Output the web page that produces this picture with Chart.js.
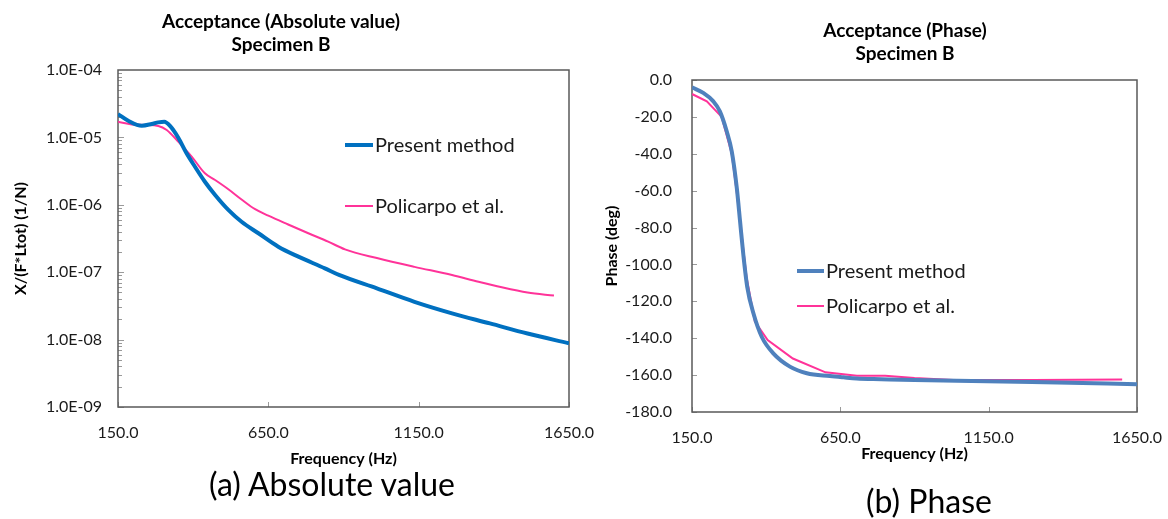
<!DOCTYPE html>
<html>
<head>
<meta charset="utf-8">
<script src="https://cdn.jsdelivr.net/npm/chart.js@4.4.1/dist/chart.umd.min.js"></script>
<style>
  html, body { margin:0; padding:0; background:#fff; }
  body { width:1168px; height:519px; position:relative; overflow:hidden; font-family:Lato, "Open Sans", sans-serif; }
  canvas { position:absolute; top:0; }
  .t { position:absolute; white-space:nowrap; transform:translateX(-50%); color:#000; }
  .title { font-weight:bold; font-size:19px; line-height:19px; }
  .cap { font-size:32px; line-height:32px; }
</style>
</head>
<body>
<canvas id="cA" width="620" height="519" style="left:0;width:620px;height:519px"></canvas>
<canvas id="cB" width="608" height="519" style="left:580px;width:608px;height:519px"></canvas>

<div class="t title" style="left:281px;top:11px">Acceptance (Absolute value)</div>
<div class="t title" style="left:281px;top:34px">Specimen B</div>
<div class="t title" style="left:905px;top:20px">Acceptance (Phase)</div>
<div class="t title" style="left:905px;top:43px">Specimen B</div>
<div class="t cap" style="left:332px;top:468px">(a) Absolute value</div>
<div class="t cap" style="left:929px;top:485px">(b) Phase</div>

<script>
// ---------- data ----------
const seriesNames = ['Present method', 'Policarpo et al.'];

const xTicks = [150, 650, 1150, 1650];
const absTicks = [1e-9, 1e-8, 1e-7, 1e-6, 1e-5, 1e-4];
const phaseTicks = [-180, -160, -140, -120, -100, -80, -60, -40, -20, 0];

// (a) Absolute value
const absFreqPresent = [150, 184, 229, 262, 284, 304, 323, 351, 378, 406, 439, 473, 517, 561, 617, 683, 750, 838, 885, 1011, 1136, 1261, 1387, 1512, 1650];
const absPresent = [2.22e-5, 1.77e-5, 1.49e-5, 1.58e-5, 1.67e-5, 1.71e-5, 1.48e-5, 9.8e-6, 5.8e-6, 3.67e-6, 2.2e-6, 1.40e-6, 8.4e-7, 5.6e-7, 3.78e-7, 2.39e-7, 1.70e-7, 1.14e-7, 9.1e-8, 5.75e-8, 3.63e-8, 2.45e-8, 1.74e-8, 1.23e-8, 8.8e-9];

const absFreqPolicarpo = [150, 196, 240, 284, 312, 351, 395, 439, 473, 517, 561, 606, 650, 716, 783, 849, 905, 1011, 1136, 1261, 1349, 1411, 1512, 1600];
const absPolicarpo = [1.71e-5, 1.56e-5, 1.53e-5, 1.48e-5, 1.29e-5, 8.6e-6, 5.2e-6, 2.93e-6, 2.33e-6, 1.70e-6, 1.20e-6, 8.6e-7, 6.9e-7, 5.1e-7, 3.78e-7, 2.84e-7, 2.18e-7, 1.62e-7, 1.20e-7, 9.1e-8, 7.2e-8, 6.2e-8, 5.0e-8, 4.5e-8];

// (b) Phase
const phaseFreqPresent = [150, 188, 222, 244, 267, 284, 301, 312, 323, 336, 357, 385, 424, 480, 537, 615, 661, 705, 788, 900, 1043, 1296, 1551, 1650];
const phasePresent = [-4, -7, -11.6, -17, -27.8, -38.7, -58.6, -76.6, -94.7, -112, -126.5, -139.2, -148.2, -155.4, -159, -160.5, -161.2, -161.8, -162.2, -162.7, -163.1, -163.8, -164.5, -165];

const phaseFreqPolicarpo = [150, 200, 250, 284, 301, 318, 334, 362, 405, 490, 600, 706, 801, 900, 1030, 1300, 1600];
const phasePolicarpo = [-7.6, -11.6, -20, -40, -61, -85, -107, -131, -141, -151, -158.5, -160.3, -160.3, -161.5, -162.6, -162.6, -162.4];

// ---------- helpers ----------
const pts = (xs, ys) => xs.map((x, i) => ({ x: x, y: ys[i] }));
function fmtExp(v) {
  const parts = Number(v).toExponential(1).split('e');
  const ex = parts[1];
  const sign = ex[0] === '-' ? '-' : '+';
  return parts[0] + 'E' + sign + ex.replace(/[+-]/, '').padStart(2, '0');
}

Chart.defaults.font.family = 'Lato, "Open Sans", sans-serif';
Chart.defaults.color = '#1a1a1a';

const BLUE_A = '#0070C0';
const BLUE_B = '#4F81BD';
const PINK = '#FF3399';

// frame + inward tick marks
const framePlugin = {
  id: 'frame',
  beforeDatasetsDraw(chart) {
    const ctx = chart.ctx, a = chart.chartArea;
    const xs = chart.scales.x, ys = chart.scales.y;
    ctx.save();
    ctx.strokeStyle = '#9a9a9a';
    ctx.lineWidth = 1;
    xTicks.forEach(v => {
      const px = Math.round(xs.getPixelForValue(v)) + 0.5;
      ctx.beginPath(); ctx.moveTo(px, a.bottom); ctx.lineTo(px, a.bottom - 5); ctx.stroke();
    });
    if (ys.type === 'logarithmic') {
      for (let e = -9; e < -4; e++) {
        for (let k = 1; k <= 9; k++) {
          const v = k * Math.pow(10, e);
          const py = Math.round(ys.getPixelForValue(v)) + 0.5;
          const len = k === 1 ? 6 : 4;
          ctx.beginPath(); ctx.moveTo(a.left, py); ctx.lineTo(a.left + len, py); ctx.stroke();
        }
      }
    } else {
      phaseTicks.forEach(v => {
        const py = Math.round(ys.getPixelForValue(v)) + 0.5;
        ctx.beginPath(); ctx.moveTo(a.left, py); ctx.lineTo(a.left + 5, py); ctx.stroke();
      });
    }
    ctx.strokeStyle = '#595959';
    ctx.lineWidth = 1.5;
    ctx.strokeRect(a.left, a.top, a.right - a.left, a.bottom - a.top);
    ctx.restore();
  }
};

// legend drawn inside the plot
const inLegendPlugin = {
  id: 'inLegend',
  afterDraw(chart, args, opts) {
    const ctx = chart.ctx;
    ctx.save();
    chart.data.datasets.forEach((ds, i) => {
      const p = opts.items[i];
      ctx.strokeStyle = ds.borderColor;
      ctx.lineWidth = ds.borderWidth;
      ctx.beginPath(); ctx.moveTo(p.x, p.y); ctx.lineTo(p.x + opts.lineLen, p.y); ctx.stroke();
      ctx.fillStyle = '#1a1a1a';
      ctx.font = opts.fontSize + 'px Lato, "Open Sans", sans-serif';
      ctx.textBaseline = 'middle';
      ctx.textAlign = 'left';
      ctx.fillText(ds.label, p.x + opts.lineLen + 2, p.y + 1);
    });
    ctx.restore();
  }
};

function baseOptions(cfg) {
  return {
    responsive: false,
    animation: false,
    devicePixelRatio: 1,
    layout: { padding: { left: 0, right: cfg.padRight, top: cfg.padTop, bottom: 0 } },
    elements: { point: { radius: 0 } },
    plugins: {
      legend: { display: false },
      tooltip: { enabled: false },
      inLegend: cfg.legend
    },
    scales: {
      x: {
        type: 'linear',
        min: 150, max: 1650,
        afterBuildTicks: s => { s.ticks = xTicks.map(v => ({ value: v })); },
        afterFit: s => { s.height = cfg.xHeight; },
        ticks: { callback: v => Number(v).toFixed(1), padding: 16, font: { size: 16 }, maxRotation: 0, autoSkip: false, color: '#1a1a1a' },
        grid: { display: false, drawTicks: false },
        border: { display: false },
        title: { display: true, text: 'Frequency (Hz)', color: '#000', font: { size: 16, weight: 'bold' }, padding: { top: 0, bottom: cfg.xTitlePad } }
      },
      y: cfg.y
    }
  };
}

// ---------- chart (a) ----------
new Chart(document.getElementById('cA'), {
  type: 'line',
  data: {
    datasets: [
      { label: seriesNames[0], data: pts(absFreqPresent, absPresent), borderColor: BLUE_A, borderWidth: 4, cubicInterpolationMode: 'monotone', pointRadius: 0 },
      { label: seriesNames[1], data: pts(absFreqPolicarpo, absPolicarpo), borderColor: PINK, borderWidth: 2, cubicInterpolationMode: 'monotone', pointRadius: 0 }
    ]
  },
  options: baseOptions({
    padRight: 51, padTop: 70, xHeight: 112, xTitlePad: 51,
    legend: { lineLen: 28, fontSize: 20, items: [{ x: 345, y: 145 }, { x: 345, y: 206 }] },
    y: {
      type: 'logarithmic',
      min: 1e-9, max: 1e-4,
      afterBuildTicks: s => { s.ticks = absTicks.map(v => ({ value: v })); },
      afterFit: s => { s.width = 118; },
      ticks: { callback: v => fmtExp(v), padding: 16, font: { size: 16 }, autoSkip: false, color: '#1a1a1a' },
      grid: { display: false, drawTicks: false },
      border: { display: false },
      title: { display: true, text: 'X/(F*Ltot) (1/N)', color: '#000', font: { size: 16, weight: 'bold' }, padding: { top: 11, bottom: 0 } }
    }
  }),
  plugins: [framePlugin, inLegendPlugin]
});

// ---------- chart (b) ----------
new Chart(document.getElementById('cB'), {
  type: 'line',
  data: {
    datasets: [
      { label: seriesNames[0], data: pts(phaseFreqPresent, phasePresent), borderColor: BLUE_B, borderWidth: 4, cubicInterpolationMode: 'monotone', pointRadius: 0 },
      { label: seriesNames[1], data: pts(phaseFreqPolicarpo, phasePolicarpo), borderColor: PINK, borderWidth: 2, tension: 0, pointRadius: 0 }
    ]
  },
  options: baseOptions({
    padRight: 51, padTop: 80, xHeight: 107, xTitlePad: 56,
    legend: { lineLen: 27, fontSize: 20, items: [{ x: 217, y: 271 }, { x: 217, y: 306 }] },
    y: {
      type: 'linear',
      min: -180, max: 0,
      afterBuildTicks: s => { s.ticks = phaseTicks.map(v => ({ value: v })); },
      afterFit: s => { s.width = 112; },
      ticks: { callback: v => Number(v).toFixed(1), padding: 20, font: { size: 16 }, autoSkip: false, color: '#1a1a1a' },
      grid: { display: false, drawTicks: false },
      border: { display: false },
      title: { display: true, text: 'Phase (deg)', color: '#000', font: { size: 16, weight: 'bold' }, padding: { top: 22, bottom: 0 } }
    }
  }),
  plugins: [framePlugin, inLegendPlugin]
});
</script>
</body>
</html>
